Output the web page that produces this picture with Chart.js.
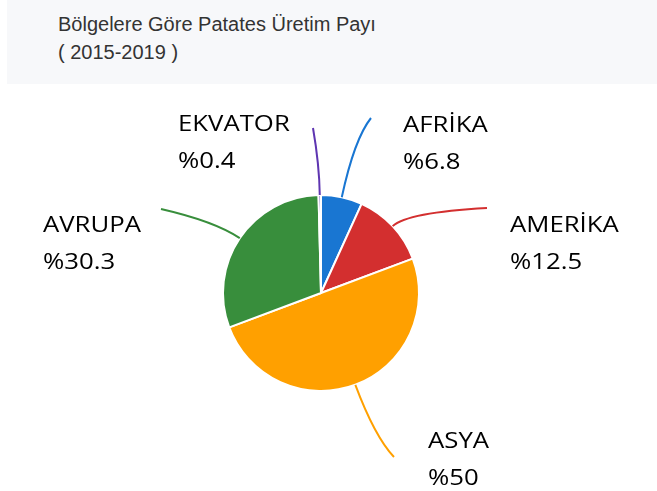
<!DOCTYPE html>
<html>
<head>
<meta charset="utf-8">
<script src="https://cdn.jsdelivr.net/npm/chart.js@4/dist/chart.umd.min.js"></script>
<style>
  body { margin: 0; background: #fff; }
  #wrap { position: relative; width: 657px; height: 491px; overflow: hidden; }
  #titleBox {
    position: absolute; left: 7px; top: 0; width: 650px; height: 84px;
    background: #f7f8fa;
    font-family: "Liberation Sans", Arial, sans-serif; font-size: 20px; color: #333;
  }
  #titleBox div { position: absolute; left: 51px; white-space: nowrap; line-height: 23px; }
  #myChart { position: absolute; left: 0; top: 0; }
</style>
</head>
<body>
<div id="wrap">
  <div id="titleBox">
    <div style="top:13px">Bölgelere Göre Patates Üretim Payı</div>
    <div style="top:41px">( 2015-2019 )</div>
  </div>
  <canvas id="myChart" width="657" height="491"></canvas>
</div>
<script>
const regions = ['AFRİKA', 'AMERİKA', 'ASYA', 'AVRUPA', 'EKVATOR'];
const shares = [6.8, 12.5, 50, 30.3, 0.4];
const colors = ['#1976d2', '#d32f2f', '#ffa000', '#388e3c', '#5e35b1'];

// where each label sits and where its leader line ends (relative to pie centre)
const labelSpots = [
  { tx: 82, ty: -161, ex: 50, ey: -175, bend: 60 },
  { tx: 189, ty: -61, ex: 166, ey: -85, bend: 20 },
  { tx: 107, ty: 155, ex: 73, ey: 164, bend: 55 },
  { tx: -278, ty: -61, ex: -160, ey: -84, bend: 30 },
  { tx: -143, ty: -162, ex: -8, ey: -165, bend: 30 }
];

const leaderLabels = {
  id: 'leaderLabels',
  afterDatasetsDraw(chart) {
    const ctx = chart.ctx;
    const meta = chart.getDatasetMeta(0);
    meta.data.forEach((arc, i) => {
      const p = arc.getProps(['x', 'y', 'startAngle', 'endAngle', 'outerRadius'], true);
      const mid = (p.startAngle + p.endAngle) / 2;
      const ax = p.x + Math.cos(mid) * p.outerRadius;
      const ay = p.y + Math.sin(mid) * p.outerRadius;
      const s = labelSpots[i];
      const cx = ax + Math.cos(mid) * s.bend;
      const cy = ay + Math.sin(mid) * s.bend;
      ctx.save();
      ctx.strokeStyle = colors[i];
      ctx.lineWidth = 2;
      ctx.beginPath();
      ctx.moveTo(ax, ay);
      ctx.quadraticCurveTo(cx, cy, p.x + s.ex, p.y + s.ey);
      ctx.stroke();
      // labels: a bit wider than Open Sans normally is
      ctx.translate(p.x + s.tx, p.y + s.ty);
      ctx.scale(1.17, 1);
      ctx.fillStyle = '#000';
      ctx.font = '22px "Open Sans", sans-serif';
      ctx.textBaseline = 'alphabetic';
      ctx.fillText(regions[i], 0, 0);
      ctx.fillText('%' + shares[i], 0, 37);
      ctx.restore();
    });
  }
};

const configureData = () => {
  return {
    labels: regions,
    datasets: [{
      data: shares,
      backgroundColor: colors,
      borderColor: '#fff',
      borderWidth: 2
    }]
  }
};

const configureChart = (data) => {
  return {
    type: 'pie',
    data: data,
    options: {
      responsive: false,
      animation: false,
      layout: {
        padding: { left: 222, right: 237, top: 194, bottom: 99 }
      },
      plugins: {
        legend: { display: false },
        tooltip: { enabled: false }
      }
    },
    plugins: [leaderLabels]
  }
};

const renderChart = () => {
  const ctx = document.getElementById('myChart');
  const data = configureData();
  new Chart(ctx, configureChart(data));
};

window.onload = () => {
  renderChart();
};
</script>
</body>
</html>
